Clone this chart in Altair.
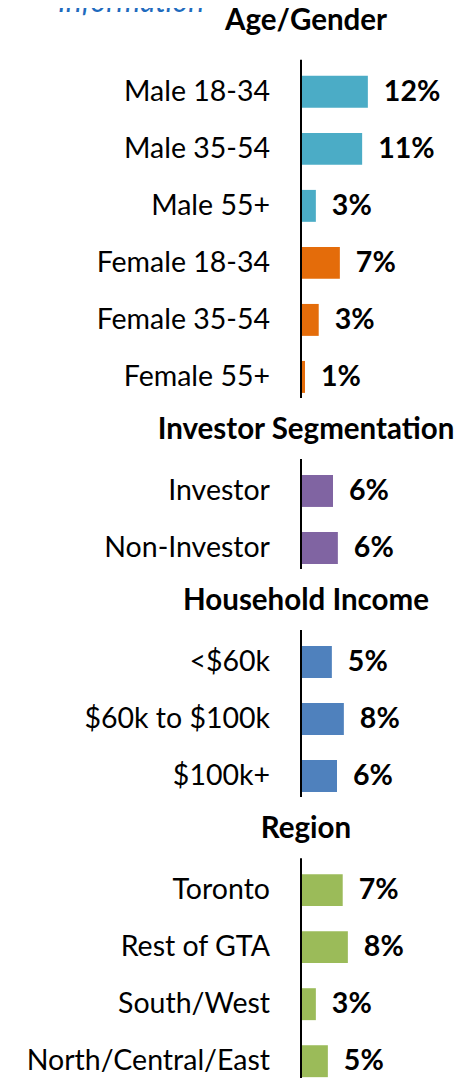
import altair as alt
import pandas as pd

# ---- data ----
sections = ["Age/Gender", "Investor Segmentation", "Household Income", "Region"]
categories = ["Male 18-34", "Male 35-54", "Male 55+", "Female 18-34", "Female 35-54", "Female 55+",
              "Investor", "Non-Investor",
              "<$60k", "$60k to $100k", "$100k+",
              "Toronto", "Rest of GTA", "South/West", "North/Central/East"]
section_of = ["Age/Gender"] * 6 + ["Investor Segmentation"] * 2 + ["Household Income"] * 3 + ["Region"] * 4
groups = ["Male"] * 3 + ["Female"] * 3 + ["Investor"] * 2 + ["Income"] * 3 + ["Region"] * 4
values = [11.7, 10.7, 2.6, 6.8, 3.1, 0.7, 5.6, 6.45, 5.4, 7.5, 6.3, 7.3, 8.2, 2.6, 4.7]
value_labels = ["12%", "11%", "3%", "7%", "3%", "1%", "6%", "6%", "5%", "8%", "6%", "7%", "8%", "3%", "5%"]
group_names = ["Male", "Female", "Investor", "Income", "Region"]
group_colors = ["#4BACC6", "#E46C0A", "#8064A2", "#4F81BD", "#9BBB59"]
top_title = "Information"

# ---- build tables ----
df = pd.DataFrame({"cat": categories, "section": section_of, "group": groups,
                   "value": values, "label": value_labels})

order = []
for s in sections:
    order.append(s)
    order += [c for c, sc in zip(categories, section_of) if sc == s]

sec_df = pd.DataFrame({
    "section": sections,
    "first": [[c for c, sc in zip(categories, section_of) if sc == s][0] for s in sections],
    "last": [[c for c, sc in zip(categories, section_of) if sc == s][-1] for s in sections],
})

FONT = "Lato"
yscale = alt.Scale(domain=order, paddingInner=0.44, paddingOuter=0.19)
xscale = alt.Scale(domain=[0, 24.5])
Y = alt.Y("cat:N", scale=yscale, axis=None)
X = alt.X("value:Q", scale=xscale, axis=None)

base = alt.Chart(df)

bars = base.mark_bar().encode(
    y=Y, x=X,
    color=alt.Color("group:N", scale=alt.Scale(domain=group_names, range=group_colors), legend=None),
)

vlabels = base.mark_text(align="left", baseline="middle", dx=16, font=FONT,
                         fontSize=28.5, fontWeight="bold", color="#000000").encode(
    y=Y, x=X, text="label:N")

clabels = base.mark_text(align="right", baseline="middle", dx=-31, font=FONT,
                         fontSize=28.5, color="#000000").encode(
    y=Y, x=alt.datum(0, scale=xscale), text="cat:N")

rules = alt.Chart(sec_df).mark_rule(color="#000000", strokeWidth=2, yOffset=-32, y2Offset=21).encode(
    y=alt.Y("first:N", scale=yscale, axis=None),
    y2="last:N",
    x=alt.datum(0, scale=xscale),
)

hdr0 = alt.Chart(sec_df.iloc[:1]).mark_text(align="center", baseline="middle", dx=5, dy=-14,
                                             font=FONT, fontSize=29.5, fontWeight="bold",
                                             color="#000000").encode(
    y=alt.Y("section:N", scale=yscale, axis=None), x=alt.datum(0, scale=xscale), text="section:N")

hdrs = alt.Chart(sec_df.iloc[1:]).mark_text(align="center", baseline="middle", dx=5, dy=-4,
                                             font=FONT, fontSize=29.5, fontWeight="bold",
                                             color="#000000").encode(
    y=alt.Y("section:N", scale=yscale, axis=None), x=alt.datum(0, scale=xscale), text="section:N")

title_df = pd.DataFrame({"section": [sections[0]], "t": [top_title]})
ttl = alt.Chart(title_df).mark_text(align="center", baseline="alphabetic", dx=-170, dy=-23,
                                    font=FONT, fontSize=30, fontStyle="italic",
                                    color="#1F6BBE").encode(
    y=alt.Y("section:N", scale=yscale, axis=None), x=alt.datum(0, scale=xscale), text="t:N")

chart = alt.layer(bars, vlabels, clabels, rules, hdr0, hdrs, ttl).properties(
    width=140, height=1080,
    autosize=alt.AutoSizeParams(type="none"),
    padding={"left": 293, "top": 0, "right": 20, "bottom": 0},
).configure_view(stroke=None)

chart.save("out.html", embed_options={"renderer": "svg", "actions": False})
